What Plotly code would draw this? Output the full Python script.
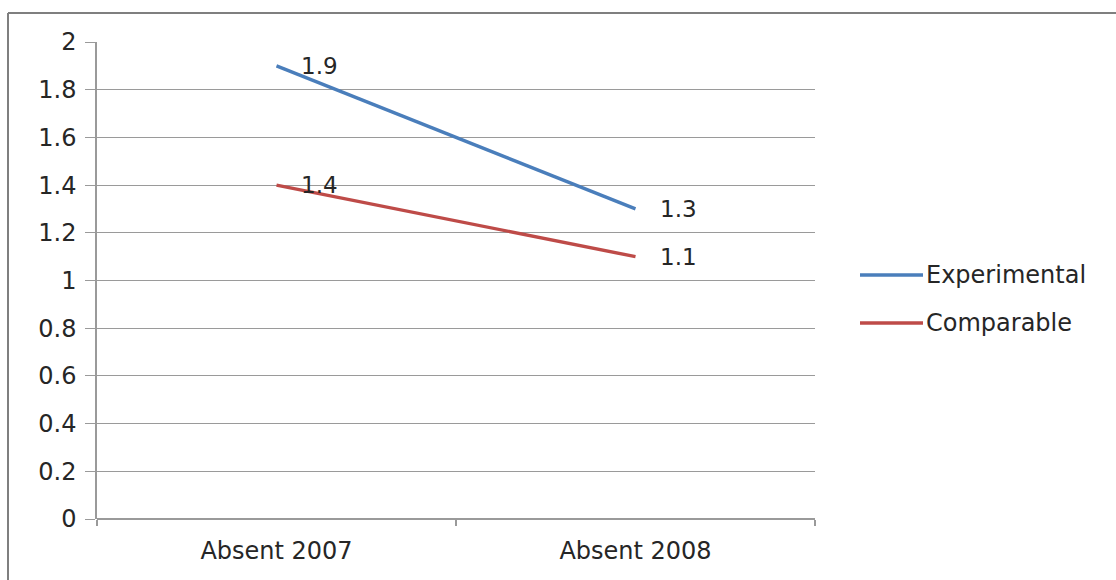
import plotly.graph_objects as go

categories = ["Absent 2007", "Absent 2008"]
experimental = [1.9, 1.3]
comparable = [1.4, 1.1]
series_names = ["Experimental", "Comparable"]
series_colors = ["#4A7EBB", "#BE4B48"]
y_ticks = [0, 0.2, 0.4, 0.6, 0.8, 1, 1.2, 1.4, 1.6, 1.8, 2]

FONT = "'DejaVu Sans', sans-serif"
TXT = "#262626"
GRID = "#9a9a9a"
FS = 24

fig = go.Figure()
for i, (name, vals, col) in enumerate(zip(series_names, [experimental, comparable], series_colors)):
    fig.add_trace(go.Scatter(
        x=categories, y=vals, name=name, mode="lines",
        line=dict(color=col, width=3.4), showlegend=False,
    ))
    for c, v in zip(categories, vals):
        fig.add_annotation(x=c, y=v, text=f"{v}", showarrow=False,
                           xanchor="left", yanchor="middle", xshift=22, yshift=0,
                           font=dict(family=FONT, size=FS - 1, color=TXT))

# manual legend (paper coordinates relative to plot area)
W, H, L, B = 718, 477, 97, 519
shapes = []
for i, (name, col) in enumerate(zip(series_names, series_colors)):
    ypx = 275 + 48 * i
    yp = (B - ypx) / H
    shapes.append(dict(type="line", xref="paper", yref="paper",
                       x0=(860 - L) / W, x1=(923 - L) / W, y0=yp, y1=yp,
                       line=dict(color=col, width=3.4)))
    fig.add_annotation(xref="paper", yref="paper", x=(924 - L) / W, y=yp,
                       text=name, showarrow=False, xanchor="left", yanchor="middle",
                       font=dict(family=FONT, size=FS, color=TXT))

shapes += [
    dict(type="line", xref="paper", yref="paper",
         x0=(8 - L) / W, x1=(1116 - L) / W,
         y0=(B - 13) / H, y1=(B - 13) / H,
         line=dict(color="#7f7f7f", width=2)),
    dict(type="line", xref="paper", yref="paper",
         x0=(8 - L) / W, x1=(8 - L) / W,
         y0=(B - 13) / H, y1=(B - 580) / H,
         line=dict(color="#7f7f7f", width=2)),
]

fig.update_layout(
    width=1116, height=580,
    margin=dict(l=97, r=301, t=42, b=61),
    paper_bgcolor="white", plot_bgcolor="white",
    font=dict(family=FONT, size=FS, color=TXT),
    showlegend=False,
    xaxis=dict(type="category", range=[-0.5, 1.5], showgrid=False,
               showline=False, ticks="outside", tickson="boundaries",
               ticklen=6, tickcolor=GRID, tickwidth=1.5, ticklabelstandoff=15,
               tickfont=dict(family=FONT, size=FS, color=TXT), zeroline=False),
    yaxis=dict(range=[0, 2], tickvals=y_ticks, showgrid=True, gridcolor=GRID,
               gridwidth=1.3, showline=True, linecolor=GRID, linewidth=1.5,
               ticks="outside", ticklen=10, tickcolor=GRID, tickwidth=1.3,
               ticklabelstandoff=4,
               zeroline=True, zerolinecolor=GRID, zerolinewidth=1.5,
               tickfont=dict(family=FONT, size=FS, color=TXT)),
    shapes=shapes,
)

fig.write_html("out.html")
